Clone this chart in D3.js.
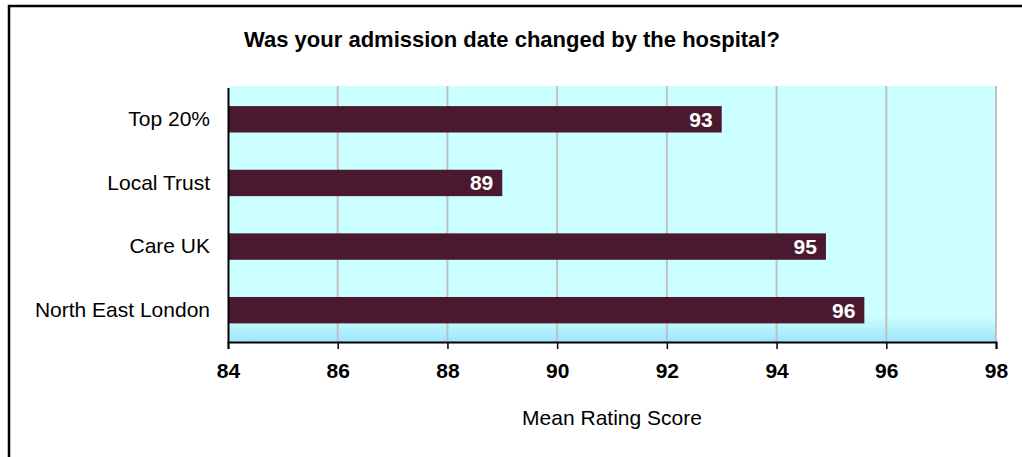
<!DOCTYPE html>
<html>
<head>
<meta charset="utf-8">
<script src="https://cdn.jsdelivr.net/npm/d3@7"></script>
<style>
  body { margin: 0; background: #fff; }
  svg { display: block; font-family: "Liberation Sans", Arial, sans-serif; }
</style>
</head>
<body>
<script>
'use strict';

// chart data
const categories = ["Top 20%", "Local Trust", "Care UK", "North East London"];
const scores = [93.0, 89.0, 94.9, 95.6];
const scoreLabels = ["93", "89", "95", "96"];
const xTicks = [84, 86, 88, 90, 92, 94, 96, 98];

const titleText = "Was your admission date changed by the hospital?";
const xTitle = "Mean Rating Score";

(function() {
  const width = 1022, height = 457;
  const plot = { left: 228, right: 996, top: 86, bottom: 342 };

  const svg = d3.select('body').append('svg')
    .attr('width', width)
    .attr('height', height);

  // outer chart frame (cropped on right and bottom in the reference)
  svg.append('rect')
    .attr('x', 9).attr('y', 6)
    .attr('width', width + 20).attr('height', height + 20)
    .attr('fill', '#fff')
    .attr('stroke', '#000')
    .attr('stroke-width', 2.5);

  // plot background with a soft gradient near the bottom
  const grad = svg.append('defs').append('linearGradient')
    .attr('id', 'bg').attr('x1', 0).attr('y1', 0).attr('x2', 0).attr('y2', 1);
  grad.append('stop').attr('offset', 0).attr('stop-color', '#ccffff');
  grad.append('stop').attr('offset', 0.9).attr('stop-color', '#ccffff');
  grad.append('stop').attr('offset', 1).attr('stop-color', '#9fe4fa');

  svg.append('rect')
    .attr('x', plot.left).attr('y', plot.top)
    .attr('width', plot.right - plot.left)
    .attr('height', plot.bottom - plot.top)
    .attr('fill', 'url(#bg)');

  const x = d3.scaleLinear()
    .domain([xTicks[0], xTicks[xTicks.length - 1]])
    .range([plot.left, plot.right]);

  const y = d3.scaleBand()
    .domain(categories)
    .range([plot.top + 1.5, plot.bottom])
    .paddingInner(0.585)
    .paddingOuter(0.2925);

  // vertical gridlines
  svg.append('g').selectAll('line')
    .data(xTicks.slice(1))
    .enter().append('line')
      .attr('x1', d => x(d)).attr('x2', d => x(d))
      .attr('y1', plot.top).attr('y2', plot.bottom)
      .attr('stroke', '#c0c0c0')
      .attr('stroke-width', 2);

  // bars
  const rows = categories.map((c, i) => ({ cat: c, val: scores[i], lab: scoreLabels[i] }));

  svg.append('g').selectAll('rect')
    .data(rows)
    .enter().append('rect')
      .attr('x', x(xTicks[0]))
      .attr('y', d => y(d.cat))
      .attr('width', d => x(d.val) - x(xTicks[0]))
      .attr('height', y.bandwidth())
      .attr('fill', '#4a1930');

  // value labels inside bar ends
  svg.append('g').selectAll('text')
    .data(rows)
    .enter().append('text')
      .attr('x', d => x(d.val) - 9)
      .attr('y', d => y(d.cat) + y.bandwidth() / 2)
      .attr('dy', '0.36em')
      .attr('text-anchor', 'end')
      .attr('fill', '#fff')
      .style('font-weight', 'bold')
      .style('font-size', '21px')
      .text(d => d.lab);

  // x axis
  const xAxis = d3.axisBottom(x)
    .tickValues(xTicks)
    .tickSize(7)
    .tickPadding(14)
    .tickFormat(d3.format('d'));
  const gx = svg.append('g')
    .attr('transform', 'translate(0,' + plot.bottom + ')')
    .call(xAxis);
  gx.select('.domain').attr('stroke', '#000').attr('stroke-width', 2);
  gx.selectAll('.tick line').attr('stroke', '#000').attr('stroke-width', 1.5);
  gx.selectAll('.tick text')
    .attr('fill', '#000')
    .style('font-family', '"Liberation Sans", Arial, sans-serif')
    .style('font-weight', 'bold')
    .style('font-size', '21px');

  // y axis (category labels, no ticks)
  const yAxis = d3.axisLeft(y).tickSize(0).tickPadding(18);
  const gy = svg.append('g')
    .attr('transform', 'translate(' + plot.left + ',0)')
    .call(yAxis);
  gy.select('.domain').attr('stroke', '#000').attr('stroke-width', 2);
  gy.selectAll('.tick text')
    .attr('fill', '#000')
    .style('font-family', '"Liberation Sans", Arial, sans-serif')
    .style('font-size', '21px');

  // title
  svg.append('text')
    .attr('x', 512)
    .attr('y', 47)
    .attr('text-anchor', 'middle')
    .style('font-weight', 'bold')
    .style('font-size', '22px')
    .text(titleText);

  // x axis title
  svg.append('text')
    .attr('x', (plot.left + plot.right) / 2)
    .attr('y', 425)
    .attr('text-anchor', 'middle')
    .style('font-size', '21px')
    .text(xTitle);
})();
</script>
</body>
</html>
